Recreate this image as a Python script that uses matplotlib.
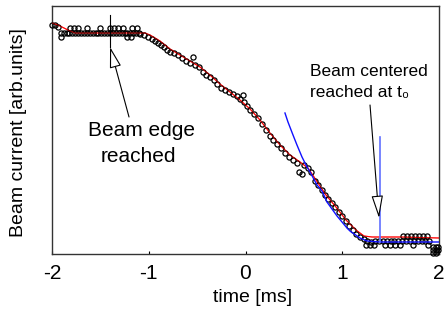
import matplotlib
matplotlib.use("Agg")
import matplotlib.pyplot as plt
from matplotlib.patches import FancyArrowPatch

plt.rcParams['font.family'] = ['Liberation Sans', 'DejaVu Sans']

# ---- measured beam current (arb. units) ----
t_start = [-2.00, -1.97, -1.94, -1.91, -1.91]
v_start = [229, 229, 227, 221, 217]

t_plateau = [-1.88, -1.85, -1.82, -1.79, -1.76, -1.73, -1.70, -1.67, -1.64, -1.61,
             -1.58, -1.55, -1.52, -1.49, -1.46, -1.43, -1.40, -1.37, -1.34, -1.31,
             -1.28, -1.25, -1.22, -1.19, -1.16, -1.13, -1.10]
v_plateau = [221, 221, 221, 221, 221, 221, 221, 221, 221, 221,
             221, 221, 221, 221, 221, 221, 221, 221, 221, 221,
             221, 221, 221, 221, 221, 221, 221]

t_plateau_up = [-1.81, -1.77, -1.73, -1.64, -1.50, -1.40, -1.36, -1.32, -1.27, -1.17, -1.12]
v_plateau_up = [226, 226, 226, 226, 226, 226, 226, 226, 226, 226, 226]
t_plateau_low = [-1.22, -1.18]
v_plateau_low = [217, 217]

t_fall = [-1.090, -1.049, -1.008, -0.966, -0.935, -0.904, -0.873, -0.842, -0.811, -0.780,
          -0.739, -0.698, -0.656, -0.615, -0.574, -0.543, -0.522, -0.481, -0.439, -0.408,
          -0.367, -0.326, -0.295, -0.253, -0.212, -0.171, -0.129, -0.088, -0.057, -0.026,
          -0.016, 0.016, 0.047, 0.088, 0.129, 0.171, 0.212, 0.253, 0.284, 0.326,
          0.367, 0.408, 0.450, 0.491, 0.532, 0.553, 0.584, 0.605, 0.646, 0.677,
          0.718, 0.749, 0.791, 0.822, 0.853, 0.894, 0.925, 0.966, 0.997, 1.039,
          1.070, 1.111, 1.142, 1.183, 1.225, 1.256, 1.297]
v_fall = [220, 219, 217, 215, 213, 211, 209, 207, 204, 202,
          201, 199, 196, 193, 191, 197, 189, 187, 182, 179,
          177, 174, 170, 166, 164, 162, 160, 158, 155, 159,
          152, 148, 144, 140, 136, 130, 124, 118, 114, 110,
          106, 101, 97, 94, 91, 82, 80, 89, 86, 82,
          73, 69, 64, 59, 55, 51, 47, 42, 38, 33,
          28, 24, 20, 17, 15, 13, 12]

t_floor = [1.34, 1.38, 1.42, 1.46, 1.50, 1.54, 1.58, 1.62, 1.66, 1.70,
           1.74, 1.78, 1.82, 1.86, 1.90]
v_floor = [13, 13, 13, 13, 13, 13, 13, 13, 13, 13, 13, 13, 13, 13, 13]
t_floor_low = [1.25, 1.29, 1.33, 1.44, 1.49, 1.55, 1.60, 1.73, 1.89]
v_floor_low = [9, 9, 9, 9, 9, 9, 9, 9, 9]
t_floor_up = [1.63, 1.67, 1.71, 1.75, 1.79, 1.83, 1.88]
v_floor_up = [18, 18, 18, 18, 18, 18, 18]
t_end = [1.94, 1.97, 1.99, 1.94, 1.97, 1.99, 1.94, 1.97]
v_end = [7, 7, 7, 4, 4, 4, 1, 1]

# ---- red fit ----
t_red = [-2.000, -1.938, -1.835, -1.762, -1.039, -0.987, -0.884, -0.780, -0.677, -0.574,
         -0.470, -0.367, -0.264, -0.160, -0.057, 0.047, 0.150, 0.253, 0.357, 0.460,
         0.563, 0.646, 0.729, 0.832, 0.935, 1.039, 1.142, 1.225, 1.308, 1.597, 2.000]
v_red = [231, 229, 224, 221, 221, 219, 213, 205, 199, 193,
         187, 179, 170, 162, 154, 145, 134, 121, 109, 99,
         92, 86, 74, 59, 47, 34, 24, 18, 17, 17, 16]

# ---- blue fit ----
t_blue = [0.408, 0.439, 0.491, 0.532, 0.584, 0.636, 0.667, 0.739, 0.791, 0.842,
          0.946, 1.049, 1.080, 1.183, 1.256, 1.390, 2.000]
v_blue = [141, 132, 119, 109, 97, 87, 82, 69, 63, 52,
          38, 26, 23, 16, 13, 12, 12]

t0_marker = 1.39
t0_top, t0_bottom = 117, 12

xticks = [-2, -1, 0, 1, 2]
xtick_labels = ['-2', '-1', '0', '1', '2']

fig = plt.figure(figsize=(4.46, 3.2), dpi=100)
ax = fig.add_axes([52/446, 66/320, 387/446, 248/320])

ax.plot(t_red, v_red, color='red', lw=0.8, zorder=2)
for tt, vv in [(t_start, v_start), (t_plateau, v_plateau), (t_plateau_up, v_plateau_up),
               (t_plateau_low, v_plateau_low), (t_fall, v_fall), (t_floor, v_floor),
               (t_floor_low, v_floor_low), (t_floor_up, v_floor_up), (t_end, v_end)]:
    ax.plot(tt, vv, 'o', mfc='none', mec='black', ms=3.7, mew=0.9, zorder=3, clip_on=False)
ax.plot(t_red, v_red, color='red', lw=0.8, zorder=3.5, alpha=0.5)
ax.plot(t_blue, v_blue, color='#1010ff', lw=1.0, zorder=4)
ax.plot([t0_marker, t0_marker], [t0_top, t0_bottom], color='#6070ff', lw=1.2, zorder=4)

ax.set_xlim(-2, 2)
ax.set_ylim(0, 248)
ax.set_xticks(xticks)
ax.set_xticklabels(xtick_labels)
ax.set_yticks([])
ax.tick_params(axis='x', direction='in', length=2.5, width=0.8, labelsize=15, pad=7)
for s in ax.spines.values():
    s.set_color('#333333')
    s.set_linewidth(1.0)

ax.set_xlabel('time [ms]', fontsize=14)
ax.xaxis.set_label_coords(0.519, -0.175)
ax.xaxis.label.set_va('center')
ax.set_ylabel('Beam current [arb.units]', fontsize=14)
ax.yaxis.set_label_coords(-0.0866, 0.488)
ax.yaxis.label.set_va('center')

# annotations
ax.plot([-1.40, -1.40], [239, 207], color='black', lw=0.8, zorder=5)
a1 = FancyArrowPatch((-1.204, 137), (-1.400, 207),
                     arrowstyle='-|>,head_length=13,head_width=3.6', mutation_scale=1,
                     facecolor='white', edgecolor='black', lw=0.8, shrinkA=0, shrinkB=0, zorder=5)
ax.add_patch(a1)
a2 = FancyArrowPatch((1.287, 149), (1.380, 36),
                     arrowstyle='-|>,head_length=14,head_width=3.6', mutation_scale=1,
                     facecolor='white', edgecolor='black', lw=0.8, shrinkA=0, shrinkB=0, zorder=5)
ax.add_patch(a2)

ax.text(-1.073, 118.3, 'Beam edge', fontsize=15, ha='center', va='baseline')
ax.text(-1.111, 92, 'reached', fontsize=15, ha='center', va='baseline')
ax.text(0.667, 178.3, 'Beam centered', fontsize=12.5, ha='left', va='baseline')
ax.text(0.667, 157.3, 'reached at t\u2080', fontsize=12.5, ha='left', va='baseline')

fig.savefig('out.png', dpi=100)
